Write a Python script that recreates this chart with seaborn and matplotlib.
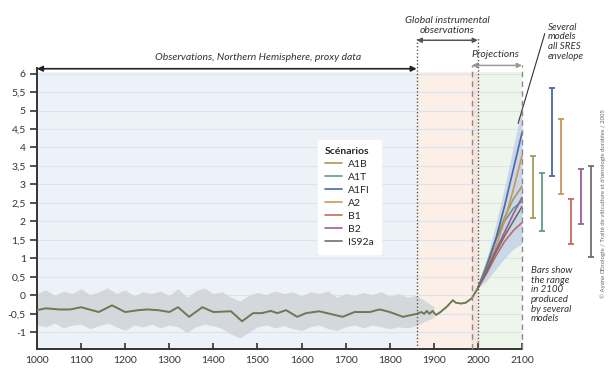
import matplotlib
matplotlib.use("Agg")
import matplotlib.pyplot as plt
import numpy as np
import pandas as pd
import seaborn as sns

# Proxy / instrumental mean (Northern Hemisphere)
mean_years = [1000, 1020, 1050, 1075, 1100, 1140, 1170, 1200, 1230, 1250, 1275, 1300,
              1320, 1345, 1375, 1400, 1440, 1465, 1490, 1510, 1530, 1545, 1565, 1590,
              1610, 1640, 1665, 1693, 1720, 1755, 1777, 1800, 1830, 1861, 1872, 1878,
              1884, 1890, 1897, 1905, 1915, 1930, 1943, 1950, 1962, 1972, 1986, 2000]
mean_vals = [-0.40, -0.35, -0.38, -0.38, -0.32, -0.45, -0.27, -0.45, -0.40, -0.38, -0.40, -0.45,
             -0.32, -0.58, -0.32, -0.45, -0.43, -0.70, -0.48, -0.48, -0.42, -0.48, -0.40, -0.58,
             -0.48, -0.43, -0.50, -0.58, -0.45, -0.45, -0.38, -0.45, -0.58, -0.50, -0.45, -0.50,
             -0.42, -0.50, -0.42, -0.53, -0.45, -0.30, -0.13, -0.20, -0.22, -0.20, -0.08, 0.20]

# Proxy uncertainty band
band_years = list(range(1000, 1901, 20))
band_upper = [0.05, 0.15, 0.00, 0.12, 0.05, 0.18, 0.02, 0.10, 0.20, 0.05, 0.15, -0.02,
              0.10, 0.05, 0.12, 0.00, 0.18, -0.05, 0.12, 0.20, 0.05, 0.10, -0.05, -0.15,
              0.00, 0.08, 0.02, 0.12, 0.05, 0.10, -0.02, 0.10, 0.05, 0.12, -0.05, 0.05,
              0.00, 0.08, 0.02, 0.10, -0.02, 0.05, -0.05, 0.00, -0.15, -0.30]
band_lower = [-0.80, -0.85, -0.75, -0.88, -0.80, -0.78, -0.90, -0.82, -0.75, -0.85, -0.95, -0.80,
              -0.85, -0.78, -0.88, -0.80, -0.85, -1.00, -0.85, -0.78, -0.82, -0.90, -1.05, -1.15,
              -1.00, -0.85, -0.80, -0.88, -0.82, -0.90, -0.95, -0.85, -0.80, -0.90, -0.95, -0.85,
              -0.80, -0.88, -0.80, -0.85, -0.90, -0.85, -0.88, -0.82, -0.70, -0.60]

# Projections
scenarios = ["A1B", "A1T", "A1FI", "A2", "B1", "B2", "IS92a"]
colors = ["#a39c58", "#5f9c86", "#4a68a8", "#c9975c", "#c56a5e", "#9b5c9c", "#6e6e6e"]
proj_years = [2000, 2020, 2040, 2060, 2080, 2100]
proj_vals = {
    "A1B":   [0.2, 0.80, 1.50, 2.10, 2.60, 2.95],
    "A1T":   [0.2, 0.85, 1.50, 2.00, 2.35, 2.55],
    "A1FI":  [0.2, 0.75, 1.50, 2.40, 3.40, 4.40],
    "A2":    [0.2, 0.70, 1.30, 2.00, 2.85, 3.78],
    "B1":    [0.2, 0.60, 1.05, 1.45, 1.75, 1.97],
    "B2":    [0.2, 0.70, 1.20, 1.70, 2.20, 2.65],
    "IS92a": [0.2, 0.65, 1.15, 1.60, 2.00, 2.40],
}
env_lower = [0.2, 0.40, 0.70, 1.00, 1.25, 1.40]
env_upper = [0.2, 1.00, 1.90, 2.90, 4.00, 5.10]

# Range bars in 2100
bar_x = [2125, 2146, 2167, 2188, 2210, 2234, 2256]
bar_low = [2.08, 1.73, 3.24, 2.73, 1.38, 1.92, 1.03]
bar_high = [3.78, 3.30, 5.60, 4.76, 2.62, 3.43, 3.51]

yticks = [-1, -0.5, 0, 0.5, 1, 1.5, 2, 2.5, 3, 3.5, 4, 4.5, 5, 5.5, 6]
xticks = list(range(1000, 2101, 100))

sns.set_style("white")
plt.rcParams["font.family"] = ["Lato", "DejaVu Sans"]

fig = plt.figure(figsize=(6.11, 3.85), dpi=100)
ax = fig.add_axes([37 / 611, 1 - 349 / 385, 560 / 611, 281 / 385])
ax.set_xlim(1000, 2270)
ax.set_ylim(-1.45, 6.15)

# background periods
top = (6.05 + 1.45) / 7.6
ax.axvspan(1000, 1861, ymin=0, ymax=top, color="#edf2f9", lw=0, zorder=0)
ax.axvspan(1861, 1986, ymin=0, ymax=top, color="#fbefe7", lw=0, zorder=0)
ax.axvspan(1986, 2000, ymin=0, ymax=top, color="#f6e4d8", lw=0, zorder=0)
ax.axvspan(2000, 2100, ymin=0, ymax=top, color="#eef5ea", lw=0, zorder=0)
ax.hlines(yticks, 1000, 2100, color="#dce3ed", lw=0.8, zorder=1)

# proxy band + mean
ax.fill_between(band_years, band_lower, band_upper, color="#d0d4d9", lw=0, alpha=0.85, zorder=2)
mean_df = pd.DataFrame({"year": mean_years, "temp": mean_vals})
sns.lineplot(data=mean_df, x="year", y="temp", color="#6b7a52", lw=1.4, ax=ax, zorder=4)

# projection envelope + scenarios
ax.fill_between(proj_years, env_lower, env_upper, color="#c6d4e8", lw=0, alpha=0.9, zorder=3)
proj_df = pd.DataFrame([(s, y, v) for s in scenarios for y, v in zip(proj_years, proj_vals[s])],
                       columns=["scenario", "year", "temp"])
sns.lineplot(data=proj_df, x="year", y="temp", hue="scenario", hue_order=scenarios,
             palette=dict(zip(scenarios, colors)), lw=1.2, ax=ax, zorder=5)

# bars
for x, lo, hi, c in zip(bar_x, bar_low, bar_high, colors):
    ax.errorbar(x, (lo + hi) / 2, yerr=(hi - lo) / 2, color=c, lw=1.3, capsize=2.2,
                capthick=1.3, clip_on=False, zorder=5)

# period boundaries
ax.plot([1861, 1861], [-1.45, 6.95], ls=(0, (1, 1.5)), color="#555555", lw=1, clip_on=False, zorder=6)
ax.plot([2000, 2000], [-1.45, 6.95], ls=(0, (1, 1.5)), color="#555555", lw=1, clip_on=False, zorder=6)
ax.plot([1986, 1986], [-1.45, 6.22], ls=(0, (4, 3)), color="#8a8a8a", lw=1, clip_on=False, zorder=6)
ax.plot([2100, 2100], [-1.45, 6.22], ls=(0, (4, 3)), color="#8a8a8a", lw=1, clip_on=False, zorder=6)

# arrows and labels
arr = dict(arrowstyle="<|-|>", color="#222222", lw=1.2, mutation_scale=8, shrinkA=0, shrinkB=0)
ax.annotate("", xy=(1000, 6.13), xytext=(1861, 6.13), arrowprops=arr, annotation_clip=False)
ax.text(1502, 6.3, "Observations, Northern Hemisphere, proxy data", style="italic",
        fontsize=7.5, ha="center", va="bottom", color="#333333")
arr2 = dict(arrowstyle="<|-|>", color="#555555", lw=1.1, mutation_scale=7, shrinkA=0, shrinkB=0)
ax.annotate("", xy=(1861, 6.9), xytext=(2000, 6.9), arrowprops=arr2, annotation_clip=False)
ax.text(1930, 7.05, "Global instrumental\nobservations", style="italic", fontsize=7.5,
        ha="center", va="bottom", color="#333333", linespacing=1.15)
arr3 = dict(arrowstyle="<|-|>", color="#999999", lw=1.1, mutation_scale=7, shrinkA=0, shrinkB=0)
ax.annotate("", xy=(1986, 6.22), xytext=(2100, 6.22), arrowprops=arr3, annotation_clip=False)
ax.text(2040, 6.4, "Projections", style="italic", fontsize=7.5, ha="center", va="bottom",
        color="#333333")
ax.annotate("Several\nmodels\nall SRES\nenvelope", xy=(2091, 4.65), xytext=(2159, 7.38),
            fontsize=7, style="italic", ha="left", va="top", color="#333333", linespacing=1.1,
            arrowprops=dict(arrowstyle="-", color="#333333", lw=0.8, shrinkA=0, shrinkB=0,
                            relpos=(0, 1)),
            annotation_clip=False)
ax.text(2120, 0.8, "Bars show\nthe range\nin 2100\nproduced\nby several\nmodels", style="italic",
        fontsize=7, ha="left", va="top", color="#333333", linespacing=1.1)
fig.text(0.988, 0.47, "© Ayane Œnologie / Traité de viticulture et d'œnologie durables / 2005",
         rotation=90, fontsize=4.3, color="#666666", ha="center", va="center")

# legend
leg = ax.legend(title="Scénarios", loc="upper left", bbox_to_anchor=(1625, 4.35),
                bbox_transform=ax.transData, fontsize=7.5,
                title_fontproperties={"weight": "bold", "size": 7.5},
                frameon=True, facecolor="white", edgecolor="white", framealpha=1,
                handlelength=1.6, handletextpad=0.6, labelspacing=0.35, alignment="left",
                borderpad=0.7)
leg.set_zorder(7)

# axes styling
for s in ["top", "right"]:
    ax.spines[s].set_visible(False)
ax.spines["bottom"].set_bounds(1000, 2100)
ax.spines["left"].set_color("#333333")
ax.spines["bottom"].set_color("#333333")
ax.spines["left"].set_linewidth(1.4)
ax.spines["bottom"].set_linewidth(1.4)
ax.set_xticks(xticks)
ax.set_yticks(yticks)
ax.set_yticklabels([("%g" % v).replace(".", ",") for v in yticks])
ax.tick_params(axis="y", direction="out", length=5, width=1.2, color="#333333",
               labelsize=7.5, labelcolor="#333333", pad=3, left=True)
ax.tick_params(axis="x", direction="in", length=4, width=1.2, color="#333333",
               labelsize=7.5, labelcolor="#333333", pad=5, bottom=True)
ax.set_xlabel("")
ax.set_ylabel("")
ax.set_facecolor("none")

fig.savefig("out.png", dpi=100)
